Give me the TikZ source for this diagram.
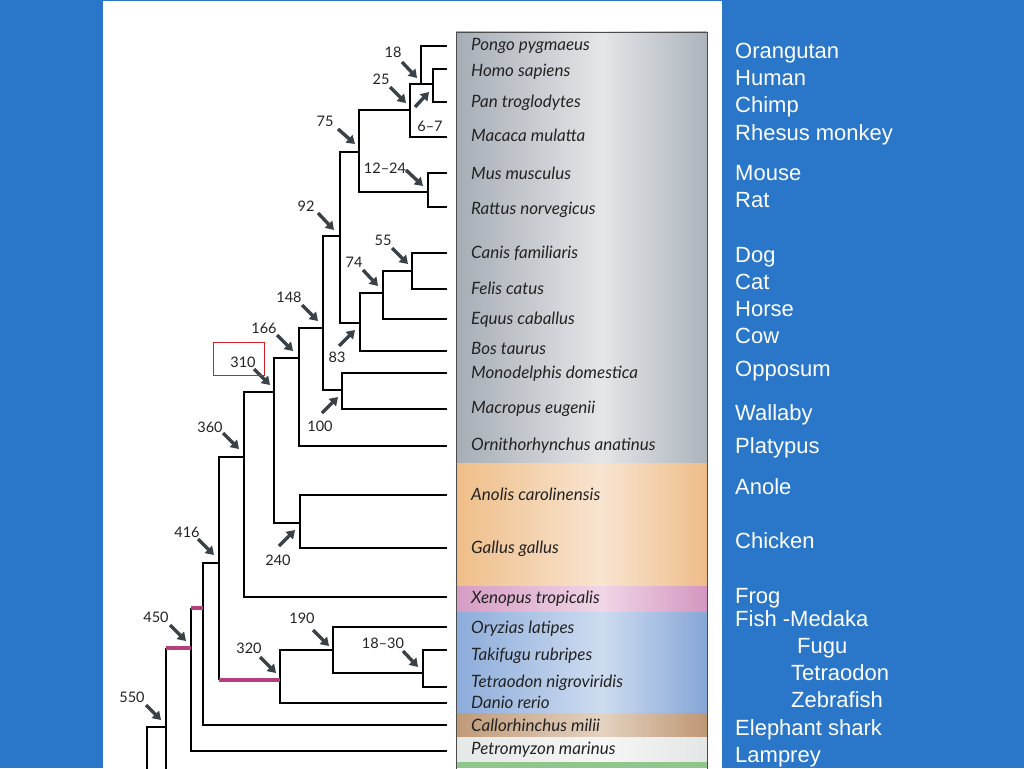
\documentclass[tikz,border=0pt]{standalone}
\usepackage{fontspec}
\usetikzlibrary{arrows.meta}
\newfontfamily\labfont{Liberation Sans}
\newfontfamily\spfont{Lato}
\definecolor{slide}{RGB}{42,118,200}
\definecolor{arrowc}{RGB}{58,66,72}
\definecolor{txtc}{RGB}{35,35,35}
\definecolor{pinkc}{RGB}{178,64,124}
\definecolor{boxred}{RGB}{210,32,40}
\definecolor{gL}{RGB}{166,173,181}\definecolor{gM}{RGB}{228,230,232}\definecolor{gR}{RGB}{172,180,188}
\definecolor{oL}{RGB}{239,190,136}\definecolor{oM}{RGB}{248,228,208}\definecolor{oR}{RGB}{238,188,136}
\definecolor{pL}{RGB}{214,156,196}\definecolor{pM}{RGB}{240,214,230}\definecolor{pR}{RGB}{212,150,192}
\definecolor{bL}{RGB}{140,172,218}\definecolor{bM}{RGB}{206,220,240}\definecolor{bR}{RGB}{134,166,214}
\definecolor{wL}{RGB}{192,154,120}\definecolor{wM}{RGB}{228,210,192}\definecolor{wR}{RGB}{190,150,116}
\definecolor{eL}{RGB}{228,232,230}\definecolor{eM}{RGB}{246,247,246}\definecolor{eR}{RGB}{226,230,228}
\definecolor{grn}{RGB}{142,198,142}
\pgfdeclarehorizontalshading{gband}{100bp}{color(0bp)=(gL); color(25bp)=(gL); color(54bp)=(gM); color(75bp)=(gR); color(100bp)=(gR)}
\pgfdeclarehorizontalshading{oband}{100bp}{color(0bp)=(oL); color(25bp)=(oL); color(54bp)=(oM); color(75bp)=(oR); color(100bp)=(oR)}
\pgfdeclarehorizontalshading{pband}{100bp}{color(0bp)=(pL); color(25bp)=(pL); color(54bp)=(pM); color(75bp)=(pR); color(100bp)=(pR)}
\pgfdeclarehorizontalshading{bband}{100bp}{color(0bp)=(bL); color(25bp)=(bL); color(54bp)=(bM); color(75bp)=(bR); color(100bp)=(bR)}
\pgfdeclarehorizontalshading{wband}{100bp}{color(0bp)=(wL); color(25bp)=(wL); color(54bp)=(wM); color(75bp)=(wR); color(100bp)=(wR)}
\pgfdeclarehorizontalshading{eband}{100bp}{color(0bp)=(eL); color(25bp)=(eL); color(54bp)=(eM); color(75bp)=(eR); color(100bp)=(eR)}
\begin{document}
\begin{tikzpicture}[x=1pt,y=-1pt,
  br/.style={line width=1.8pt, line join=miter},
  pinkbr/.style={line width=4.2pt, pinkc},
  pointer/.style={line width=3.4pt, arrowc, -{Triangle[length=8pt,width=10pt]}},
  sp/.style={font=\spfont\itshape\fontsize{17}{17}\selectfont, anchor=base west, inner sep=0pt, text=txtc},
  num/.style={font=\spfont\fontsize{14.5}{14.5}\selectfont, anchor=base, inner sep=0pt, text=txtc},
  rl/.style={font=\labfont\fontsize{22}{22}\selectfont, anchor=base west, inner sep=0pt, text=white}]
\useasboundingbox (0,0) rectangle (1024,768);
\fill[slide] (0,0) rectangle (1024,768);
\fill[white] (103,1.5) rectangle (722,768);
% colour bands
\shade[shading=gband] (456,32) rectangle (707,463);
\shade[shading=oband] (456,463) rectangle (707,586);
\shade[shading=pband] (456,586) rectangle (707,612);
\shade[shading=bband] (456,612) rectangle (707,713);
\shade[shading=wband] (456,713) rectangle (707,737);
\shade[shading=eband] (456,737) rectangle (707,762);
\fill[grn] (456,762) rectangle (707,768);
\draw[line width=0.8pt, black!70] (456,770) -- (456,32) -- (707,32) -- (707,770);
% species and leaf ends
\foreach \n/\ty/\ly/\t in {Pongo/45/46/Pongo pygmaeus, Homo/71/69/Homo sapiens, Pan/102/102/Pan troglodytes,
  Macaca/136/137/Macaca mulatta, Mus/174/173/Mus musculus, Rattus/209/207/Rattus norvegicus,
  Canis/253/253/Canis familiaris, Felis/289/289/Felis catus, Equus/319/319/Equus caballus,
  Bos/349/351/Bos taurus, Monodelphis/373/373/Monodelphis domestica, Macropus/408/409/Macropus eugenii,
  Ornitho/445/446/Ornithorhynchus anatinus, Anolis/495/495/Anolis carolinensis, Gallus/548/548/Gallus gallus,
  Xenopus/598/597/Xenopus tropicalis, Oryzias/628/627/Oryzias latipes, Takifugu/655/650/Takifugu rubripes,
  Tetraodon/682/687/Tetraodon nigroviridis, Danio/703/703/Danio rerio, Callo/726/725/Callorhinchus milii,
  Petro/749/751/Petromyzon marinus}{
  \node[sp] (s\n) at (471,\ty+5.5) {\t};
  \coordinate (l\n) at (447,\ly);
}
% internal nodes
\coordinate (nHP) at (433,84);
\coordinate (n18) at (421,84);
\coordinate (n25) at (410,110);
\coordinate (n75) at (359,152);
\coordinate (nMR) at (428,192);
\coordinate (n92) at (340,236);
\coordinate (n83) at (360,323);
\coordinate (n74) at (383,293);
\coordinate (n55) at (412,271);
\coordinate (n148) at (323,328);
\coordinate (n100) at (342,390);
\coordinate (n166) at (299,358);
\coordinate (n310) at (274,392);
\coordinate (n240) at (300,523);
\coordinate (n360) at (244,457);
\coordinate (n416) at (219,563);
\coordinate (n320) at (280,680);
\coordinate (n190) at (333,650);
\coordinate (n1830) at (423,673);
\coordinate (nCh) at (203,608);
\coordinate (n450) at (191,648);
\coordinate (n550) at (166,727);
\coordinate (bot1) at (166,769);
\coordinate (bot2) at (147,769);
% branches
\draw[br] (n18) |- (lPongo);
\draw[br] (n18) -- (nHP);
\draw[br] (nHP) |- (lHomo);
\draw[br] (nHP) |- (lPan);
\draw[br] (n25) |- (n18);
\draw[br] (n25) |- (lMacaca);
\draw[br] (n75) |- (n25);
\draw[br] (n75) |- (nMR);
\draw[br] (nMR) |- (lMus);
\draw[br] (nMR) |- (lRattus);
\draw[br] (n92) |- (n75);
\draw[br] (n92) |- (n83);
\draw[br] (n83) |- (n74);
\draw[br] (n83) |- (lBos);
\draw[br] (n74) |- (n55);
\draw[br] (n74) |- (lEquus);
\draw[br] (n55) |- (lCanis);
\draw[br] (n55) |- (lFelis);
\draw[br] (n148) |- (n92);
\draw[br] (n148) |- (n100);
\draw[br] (n100) |- (lMonodelphis);
\draw[br] (n100) |- (lMacropus);
\draw[br] (n166) |- (n148);
\draw[br] (n166) |- (lOrnitho);
\draw[br] (n310) |- (n166);
\draw[br] (n310) |- (n240);
\draw[br] (n240) |- (lAnolis);
\draw[br] (n240) |- (lGallus);
\draw[br] (n360) |- (n310);
\draw[br] (n360) |- (lXenopus);
\draw[br] (n416) |- (n360);
\draw[br] (n416) -- (n416 |- n320);
\draw[br] (n320) |- (n190);
\draw[br] (n320) |- (lDanio);
\draw[br] (n190) |- (lOryzias);
\draw[br] (n190) |- (n1830);
\draw[br] (n1830) |- (lTakifugu);
\draw[br] (n1830) |- (lTetraodon);
\draw[br] (nCh) |- (n416);
\draw[br] (nCh) |- (lCallo);
\draw[br] (n450) -- (n450 |- nCh);
\draw[br] (n450) |- (lPetro);
\draw[br] (n550) -- (n550 |- n450);
\draw[br] (n550) -- (bot1);
\draw[br] (bot2) |- (n550);
\draw[pinkbr] (n416 |- n320) -- (n320);
\draw[pinkbr] (n450 |- nCh) -- (nCh);
\draw[pinkbr] (n550 |- n450) -- (n450);
% arrows
\foreach \k/\a/\b/\c/\d in {18/402/62/417/78, 25/390/87/406/103, 75/338/129/355/144, 67/415/107/429/92,
  1224/406/170/423/186, 92/318/213/334/230, 55/392/248/408/264, 74/363/270/378/286, 148/302/305/318/321,
  166/277/335/293/351, 83/339/346/355/330, 100/322/413/338/397, 310/254/369/270/385, 360/223/433/239/449,
  416/198/539/214/555, 240/279/546/295/530, 190/313/630/329/646, 1830/403/651/418/667, 320/260/657/276/673,
  450/170/625/186/641, 550/146/705/161/720}{
  \coordinate (a\k s) at (\a,\b);
  \coordinate (a\k e) at (\c,\d);
  \draw[pointer] (a\k s) -- (a\k e);
}
% numbers
\foreach \k/\x/\y/\t in {18/393/53/18, 25/381/79/25, 75/325/121/75, 67/430/126/6–7, 1224/385/168/12–24,
  92/306/206/92, 55/383/240/55, 74/354/262/74, 148/289/297/148, 166/264/328/166, 83/337/357/83,
  310/243/362/310, 100/320/426/100, 360/210/427/360, 416/187/532/416, 240/278/560/240, 190/302/618/190,
  450/156/617/450, 1830/383/643/18–30, 320/249/648/320, 550/132/697/550}{
  \node[num] (t\k) at (\x,\y+5) {\t};
}
\node[draw=boxred, line width=0.8pt, minimum width=51pt, minimum height=33pt, inner sep=0pt] (redbox) at (238.5,358.5) {};
% common names
\foreach \n/\x/\y/\t in {o/735/51/Orangutan, h/735/78/Human, c/735/105/Chimp, r/735/133/Rhesus monkey,
  m/735/173/Mouse, ra/735/200/Rat, d/735/255/Dog, ca/735/282/Cat, ho/735/309/Horse, co/735/336/Cow,
  op/735/369/Opposum, w/735/413/Wallaby, pl/735/446/Platypus, an/735/487/Anole, ch/735/541/Chicken,
  f/735/596/Frog, fm/735/619/Fish -Medaka, fu/797/646/Fugu, te/791/673/Tetraodon, ze/791/700/Zebrafish,
  es/735/728/Elephant shark, la/735/755/Lamprey}{
  \node[rl] (c\n) at (\x,\y+7.5) {\t};
}
\end{tikzpicture}
\end{document}
